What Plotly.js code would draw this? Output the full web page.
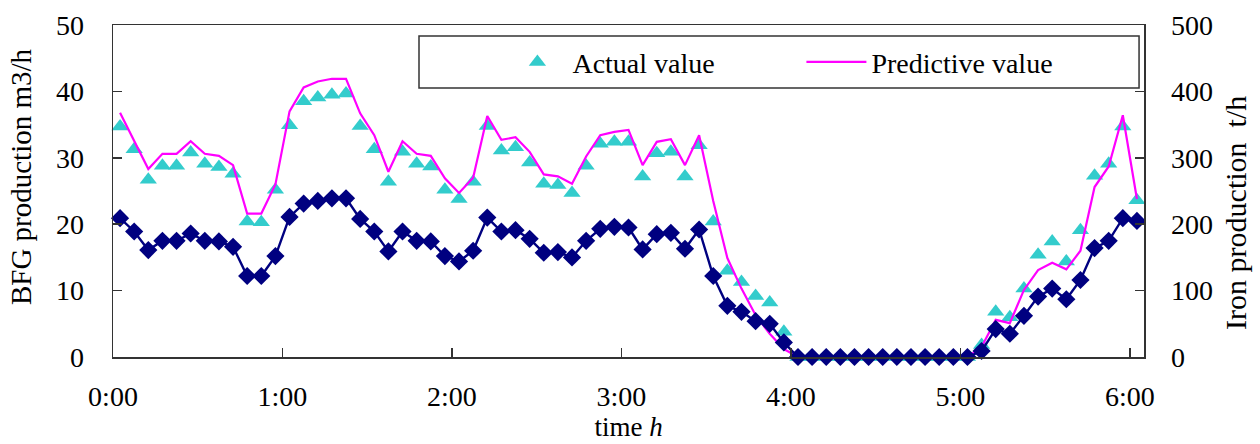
<!DOCTYPE html>
<html>
<head>
<meta charset="utf-8">
<script src="https://cdn.plot.ly/plotly-3.0.1.min.js"></script>
<style>
  html, body { margin: 0; padding: 0; background: #fff; }
  #chart { width: 1260px; height: 444px; }
</style>
</head>
<body>
<div id="chart"></div>
<script>
// Five-minute samples from 0:00 to 6:00 (73 samples, category axis)
const actualBFG = [34.7,31.3,26.7,28.8,28.8,30.8,29.1,28.6,27.6,20.4,20.3,25.2,
  34.9,38.5,39.1,39.5,39.7,34.8,31.3,26.4,30.9,29.1,28.7,25.2,
  23.8,26.4,34.8,31.1,31.6,29.3,26.1,25.9,24.7,28.8,32.1,32.4,
  32.4,27.2,30.7,30.9,27.2,31.9,20.4,13.0,11.3,9.2,8.2,3.8,
  0,0,0,0,0,0,0,0,0,0,0,0,
  0,1.8,6.8,6.0,10.3,15.4,17.4,14.4,19.1,27.3,29.1,34.7,23.6];

const predictedBFG = [36.8,32.5,28.3,30.6,30.6,32.5,30.6,30.3,28.9,21.6,21.6,26.0,
  37.0,40.6,41.5,41.9,41.9,36.7,33.4,27.9,32.5,30.6,30.3,26.9,
  24.7,27.0,36.3,32.7,33.1,30.9,27.5,27.2,26.1,30.2,33.4,33.9,
  34.2,28.9,32.4,32.8,28.9,33.4,23.5,14.9,10.3,6.3,3.5,1.2,
  0,0,0,0,0,0,0,0,0,0,0,0,
  0,1.5,5.6,5.1,10.1,13.1,14.2,13.2,16.0,25.6,28.7,36.4,23.8];

const ironProduction = [209,189,161,175,175,186,175,174,166,122,122,152,
  211,231,235,239,239,208,189,159,189,175,174,152,
  144,160,210,189,191,178,157,158,150,175,193,196,
  195,162,185,187,163,192,122,77,68,54,50,22,
  0,0,0,0,0,0,0,0,0,0,0,0,
  0,9,42,35,62,91,103,87,116,164,175,209,205];

const hourLabels = ['0:00','1:00','2:00','3:00','4:00','5:00','6:00'];
const samplesPerHour = 12;

const sampleIndex = actualBFG.map((_, i) => i);
const hourTickPositions = hourLabels.map((_, h) => h * samplesPerHour - 0.5);

const FONT = 'Liberation Serif, Times New Roman, serif';
const AXIS_COLOR = '#333333';

const traces = [
  {
    x: sampleIndex, y: actualBFG, name: 'Actual value',
    type: 'scatter', mode: 'markers',
    marker: { symbol: 'triangle-up', size: 15, color: '#33CCCC' },
    cliponaxis: false
  },
  {
    x: sampleIndex, y: predictedBFG, name: 'Predictive value',
    type: 'scatter', mode: 'lines',
    line: { color: '#FF00FF', width: 2.2 },
    cliponaxis: false
  },
  {
    x: sampleIndex, y: ironProduction, name: 'Iron production',
    type: 'scatter', mode: 'lines+markers', yaxis: 'y2',
    line: { color: '#000080', width: 2.4 },
    marker: { symbol: 'diamond', size: 14, color: '#000080' },
    showlegend: false,
    cliponaxis: false
  }
];

const layout = {
  width: 1260, height: 444,
  margin: { l: 113, r: 116, t: 25, b: 87 },
  paper_bgcolor: '#ffffff', plot_bgcolor: '#ffffff',
  font: { family: FONT, color: '#000000', size: 28 },
  showlegend: true,
  legend: {
    orientation: 'h',
    x: 0.3777, xanchor: 'left',
    y: 0.888, yanchor: 'middle',
    bgcolor: 'rgba(0,0,0,0)',
    borderwidth: 0,
    itemwidth: 60,
    entrywidth: 224,
    font: { family: FONT, size: 28, color: '#000000' }
  },
  xaxis: {
    range: [-0.5, 72.5],
    tickmode: 'array', tickvals: hourTickPositions, ticktext: hourLabels,
    ticks: 'inside', ticklen: 9, tickwidth: 1.5, tickcolor: AXIS_COLOR,
    showline: true, linecolor: AXIS_COLOR, linewidth: 1.5, mirror: true,
    showgrid: false, zeroline: false,
    ticklabelstandoff: 14,
    tickfont: { family: FONT, size: 28, color: '#000000' },
    title: { text: 'time <i>h</i>', font: { family: FONT, size: 27, color: '#000000' }, standoff: 6 }
  },
  yaxis: {
    range: [0, 50], dtick: 10, tick0: 0,
    ticks: 'inside', ticklen: 9, tickwidth: 1.5, tickcolor: AXIS_COLOR,
    showline: true, linecolor: AXIS_COLOR, linewidth: 1.5,
    showgrid: false, zeroline: false,
    ticklabelstandoff: 22,
    tickfont: { family: FONT, size: 28, color: '#000000' }
  },
  yaxis2: {
    range: [0, 500], dtick: 100, tick0: 0,
    overlaying: 'y', side: 'right',
    ticks: 'inside', ticklen: 9, tickwidth: 1.5, tickcolor: AXIS_COLOR,
    showline: true, linecolor: AXIS_COLOR, linewidth: 1.5,
    showgrid: false, zeroline: false,
    ticklabelstandoff: 20,
    tickfont: { family: FONT, size: 28, color: '#000000' }
  },
  shapes: [
    {
      type: 'rect', xref: 'paper', yref: 'paper', layer: 'above',
      x0: 0.2968, x1: 0.9952, y0: 0.8102, y1: 0.9669,
      line: { color: AXIS_COLOR, width: 1.5 }, fillcolor: 'rgba(0,0,0,0)'
    }
  ],
  annotations: [
    {
      text: 'BFG production m3/h', xref: 'paper', yref: 'paper',
      x: -0.0892, y: 0.542, xanchor: 'center', yanchor: 'middle',
      textangle: -90, showarrow: false,
      font: { family: FONT, size: 29, color: '#000000' }
    },
    {
      text: 'Iron production  t/h', xref: 'paper', yref: 'paper',
      x: 1.0892, y: 0.434, xanchor: 'center', yanchor: 'middle',
      textangle: -90, showarrow: false,
      font: { family: FONT, size: 30, color: '#000000' }
    }
  ]
};

Plotly.newPlot('chart', traces, layout, { displayModeBar: false, staticPlot: true });
</script>
</body>
</html>
